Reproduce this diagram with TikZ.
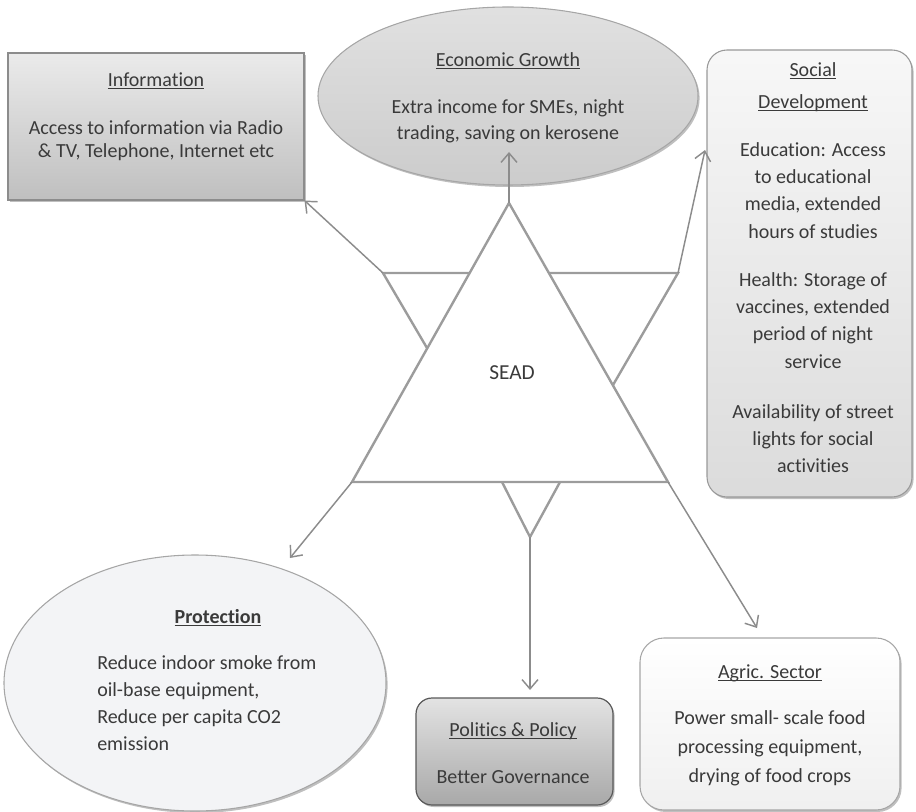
\documentclass[tikz,border=0pt]{standalone}
\usepackage{fontspec}
\setmainfont{Carlito}[Ligatures=NoCommon]
\newcommand\myul[1]{\setbox0\hbox{#1}\rlap{\rule[-2.2pt]{\wd0}{0.7pt}}\box0}
\usetikzlibrary{arrows.meta,shadows,shapes.geometric}
\definecolor{ln}{HTML}{8C8C8C}
\definecolor{trc}{HTML}{9C9C9C}
\definecolor{txtc}{HTML}{3A3A3A}
\definecolor{protfill}{HTML}{F3F4F6}
\tikzset{
  shad/.style={drop shadow={shadow xshift=1.2pt,shadow yshift=-1.5pt,opacity=0.25,fill=black}},
  infobox/.style={rectangle,draw=ln,line width=0.8pt,top color=white!92!black,bottom color=white!75!black,shad},
  econbox/.style={ellipse,draw=black!35,line width=0.8pt,top color=white!88!black,bottom color=white!80!black,shad},
  socbox/.style={rectangle,rounded corners=15pt,draw=black!40,line width=0.8pt,top color=white!97!black,bottom color=white!86!black,shad},
  protbox/.style={ellipse,draw=black!35,line width=0.8pt,fill=protfill,shad},
  polbox/.style={rectangle,rounded corners=12pt,draw=black!65,line width=0.9pt,top color=white!89!black,bottom color=white!66!black,shad},
  agbox/.style={rectangle,rounded corners=18pt,draw=black!35,line width=0.8pt,top color=white,bottom color=white!94!black,shad},
  txt/.style={font=\fontsize{15}{21}\selectfont,text=txtc,align=center,inner sep=0pt},
  tri/.style={draw=trc,line width=1.8pt,line join=miter},
  arr/.style={draw=ln,line width=1.1pt,-{Straight Barb[length=7pt,width=12pt,line width=1.1pt]}}
}
\begin{document}
\begin{tikzpicture}[x=0.75pt,y=-0.75pt]
\useasboundingbox (0,0) rectangle (916,812);
% boxes
\node[infobox,minimum width=222pt,minimum height=110.25pt] (info) at (156,126.5) {};
\node[econbox,minimum width=285pt,minimum height=133.5pt] (econ) at (508,96) {};
\node[socbox,minimum width=153.75pt,minimum height=335.25pt] (soc) at (809.5,273.5) {};
\node[protbox,minimum width=286.5pt,minimum height=192pt] (prot) at (195,683) {};
\node[polbox,minimum width=147.75pt,minimum height=80.25pt] (pol) at (514.5,751.5) {};
\node[agbox,minimum width=195pt,minimum height=129pt] (ag) at (770,724) {};
% texts
\node[txt,anchor=north] (infoT) at (156,72) {\myul{Information}};
\node[txt,anchor=north,font=\fontsize{15}{17.5}\selectfont] (infoB) at (156,120) {Access to information via Radio\\\& TV, Telephone, Internet etc};
\node[txt,anchor=north] (econT) at (508,52) {\myul{Economic Growth}};
\node[txt,anchor=north,font=\fontsize{15}{19.5}\selectfont] (econB) at (508,99) {Extra income for SMEs, night\\trading, saving on kerosene};
\node[txt,anchor=north,font=\fontsize{15}{24}\selectfont] (socT) at (813,62) {\myul{Social}\\\myul{Development}};
\node[txt,anchor=north,font=\fontsize{15}{20.5}\selectfont] (socE) at (813,142) {Education: Access\\to educational\\media, extended\\hours of studies};
\node[txt,anchor=north,font=\fontsize{15}{20.5}\selectfont] (socH) at (813,272) {Health: Storage of\\vaccines, extended\\period of night\\service};
\node[txt,anchor=north,font=\fontsize{15}{20.5}\selectfont] (socA) at (813,404) {Availability of street\\lights for social\\activities};
\node[txt,anchor=north,font=\bfseries\fontsize{15}{20}\selectfont] (protT) at (218,609) {\myul{Protection}};
\node[txt,anchor=north west,align=left,font=\fontsize{15}{20.25}\selectfont] (protB) at (97,655) {Reduce indoor smoke from\\oil-base equipment,\\Reduce per capita CO2\\emission};
\node[txt,anchor=north] (polT) at (513,722) {\myul{Politics \& Policy}};
\node[txt,anchor=north] (polB) at (513,770) {Better Governance};
\node[txt,anchor=north] (agT) at (770,664) {\myul{Agric. Sector}};
\node[txt,anchor=north,font=\fontsize{15}{22}\selectfont] (agB) at (770,710) {Power small- scale food\\processing equipment,\\drying of food crops};
% triangle
\coordinate (A) at (509,203);
\coordinate (BL) at (352,482);
\coordinate (BR) at (668,482);
\coordinate (L1) at (383,273);
\coordinate (L2) at (470,273);
\coordinate (L3) at (427,348);
\coordinate (R1) at (549,273);
\coordinate (R2) at (678,273);
\coordinate (R3) at (613,385);
\coordinate (V1) at (502,482);
\coordinate (V2) at (530,537);
\coordinate (V3) at (560,482);
\draw[tri] (A) -- (BL) -- (BR) -- cycle;
\draw[tri] (L2) -- (L1) -- (L3);
\draw[tri] (R1) -- (R2) -- (R3);
\draw[tri] (V1) -- (V2) -- (V3);
\node[txt,font=\fontsize{16}{20}\selectfont] (sead) at (512,373) {SEAD};
% arrow tips
\coordinate (econtip) at (509,152);
\coordinate (soctip) at (705,150);
\coordinate (prottip) at (290,558);
\coordinate (poltip) at (530,690);
\coordinate (agtip) at (757,628);
\draw[arr] (L1) -- (info.south east);
\draw[arr] (A) -- (econtip);
\draw[arr] (R2) -- (soctip);
\draw[arr] (BL) -- (prottip);
\draw[arr] (V2) -- (poltip);
\draw[arr] (BR) -- (agtip);
\end{tikzpicture}
\end{document}
